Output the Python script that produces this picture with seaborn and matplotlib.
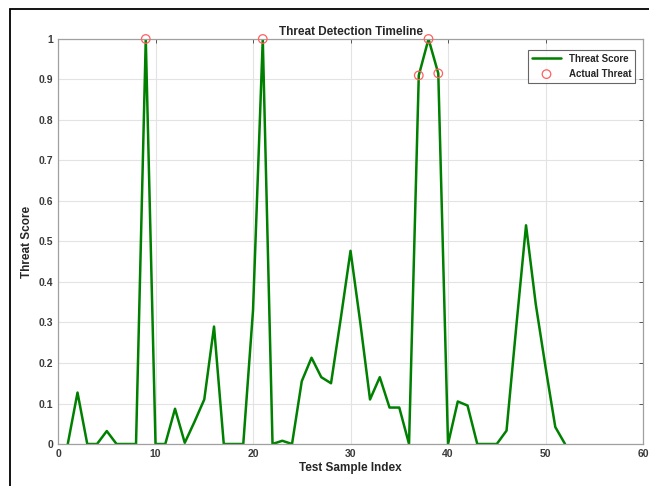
import numpy as np
import pandas as pd
import matplotlib
matplotlib.use("Agg")
import matplotlib.pyplot as plt
import seaborn as sns
from matplotlib.patches import Rectangle

# Datos del gráfico
indices = list(range(1, 53))
puntajes = [0, 0.127, 0, 0, 0.032, 0, 0, 0, 1.0, 0,
            0, 0.087, 0.003, 0.055, 0.11, 0.29, 0, 0, 0, 0.33,
            1.0, 0, 0.008, 0, 0.155, 0.213, 0.165, 0.15, 0.31, 0.477,
            0.30, 0.11, 0.165, 0.09, 0.09, 0, 0.91, 1.0, 0.915, 0,
            0.105, 0.095, 0, 0, 0, 0.033, 0.29, 0.54, 0.345, 0.19,
            0.042, 0]
amenaza_x = [9, 21, 37, 38, 39]
amenaza_y = [1.0, 1.0, 0.91, 1.0, 0.915]

x_ticks = list(range(0, 61, 10))
y_ticks = [round(v * 0.1, 1) for v in range(11)]
y_labels = ["0", "0.1", "0.2", "0.3", "0.4", "0.5", "0.6", "0.7", "0.8", "0.9", "1"]

df = pd.DataFrame({"idx": indices, "score": puntajes})
df_amenaza = pd.DataFrame({"idx": amenaza_x, "score": amenaza_y})

sns.set_style("white")
plt.rcParams["font.family"] = ["Liberation Sans", "DejaVu Sans"]

fig = plt.figure(figsize=(6.49, 4.86), dpi=100)
ax = fig.add_axes([0.0894, 0.0864, 0.9014, 0.8334])

sns.lineplot(data=df, x="idx", y="score", color="#008000", linewidth=1.8,
             label="Threat Score", ax=ax)
sns.scatterplot(data=df_amenaza, x="idx", y="score", marker="o", s=38,
                facecolor="none", edgecolor="#ff6060", linewidth=0.9,
                label="Actual Threat", ax=ax, zorder=3, clip_on=False)

ax.set_xlim(0, 60)
ax.set_ylim(0, 1)
ax.set_xticks(x_ticks)
ax.set_yticks(y_ticks)
ax.set_yticklabels(y_labels)
ax.grid(True, color="#e3e3e3", linewidth=0.8)
ax.tick_params(direction="in", top=True, right=True, length=3,
               labelsize=7.5, colors="#404040", width=0.6)
for lbl in ax.get_xticklabels() + ax.get_yticklabels():
    lbl.set_fontweight("bold")
    lbl.set_color("#3a3a3a")
for s in ax.spines.values():
    s.set_color("#a0a0a0")
    s.set_linewidth(0.9)

ax.set_title("Threat Detection Timeline", fontsize=8.5, fontweight="bold", pad=3)
ax.set_xlabel("Test Sample Index", fontsize=8.5, fontweight="bold", labelpad=2, color="#262626")
ax.set_ylabel("Threat Score", fontsize=8.5, fontweight="bold", labelpad=4, color="#262626")

leg = ax.legend(loc="upper right", fontsize=7, frameon=True, fancybox=False,
                edgecolor="#404040", handlelength=3, borderpad=0.4,
                bbox_to_anchor=(0.995, 0.985))
leg.get_frame().set_linewidth(0.8)
for t in leg.get_texts():
    t.set_fontweight("bold")

# Marco exterior de la figura
fig.patches.append(Rectangle((0.0154, -0.1), 1.2, 0.9815 + 0.1,
                             transform=fig.transFigure, fill=False,
                             edgecolor="black", linewidth=1.3))

fig.savefig("out.png", dpi=100)
